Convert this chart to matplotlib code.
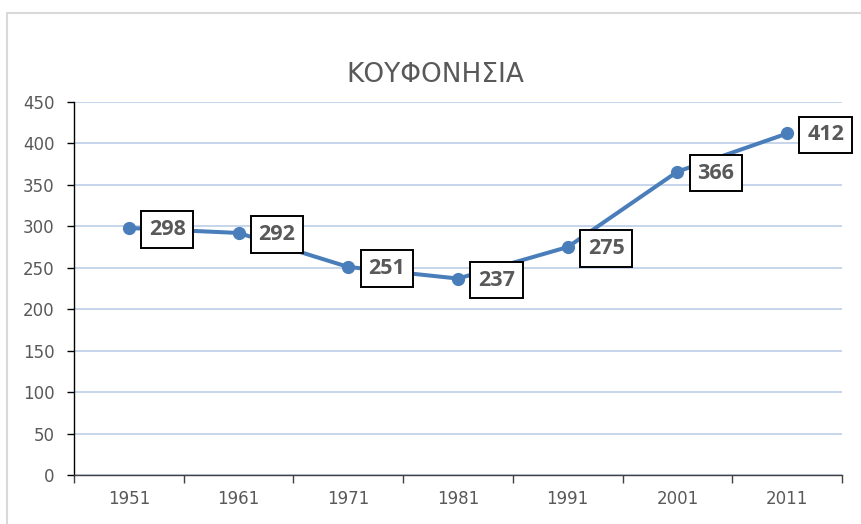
import matplotlib
matplotlib.use("Agg")
import matplotlib.pyplot as plt
from matplotlib.patches import Rectangle
from matplotlib.ticker import FixedLocator, NullFormatter, FixedFormatter

years = ["1951", "1961", "1971", "1981", "1991", "2001", "2011"]
population = [298, 292, 251, 237, 275, 366, 412]
yticks = [0, 50, 100, 150, 200, 250, 300, 350, 400, 450]
title = "ΚΟΥΦΟΝΗΣΙΑ"

plt.rcParams['font.family'] = ['DejaVu Sans']

W, H = 862, 524
fig = plt.figure(figsize=(W / 100, H / 100), dpi=100)
fig.patch.set_facecolor("white")

# chart area border
fig.patches.append(Rectangle((7 / W, -0.01), (W + 10 - 7) / W, (H - 13) / H + 0.01,
                             transform=fig.transFigure, fill=False,
                             edgecolor="#d9d9d9", linewidth=1.5))

ax = fig.add_axes([74 / W, 1 - 475 / H, (842 - 74) / W, (475 - 102) / H])
x = list(range(len(years)))
line_color = "#4a7ebb"
ax.plot(x, population, color=line_color, linewidth=2.9, marker="o",
        markersize=8.5, zorder=3, solid_capstyle="round")

for xi, v in zip(x, population):
    ax.annotate(str(v), (xi, v), xytext=(20, 1), textcoords="offset pixels",
                ha="left", va="center_baseline", fontsize=15.5, fontweight="bold",
                family=["Open Sans", "DejaVu Sans"],
                color="#595959", zorder=4, annotation_clip=False,
                bbox=dict(boxstyle="square,pad=0.36", facecolor="white",
                          edgecolor="black", linewidth=1.4))

ax.set_xlim(-0.5, len(years) - 0.5)
ax.set_ylim(0, 450)
ax.set_yticks(yticks)
ax.yaxis.grid(True, color="#c6d5ea", linewidth=1.4)
ax.set_axisbelow(True)

ax.xaxis.set_major_locator(FixedLocator([i - 0.5 for i in range(len(years) + 1)]))
ax.xaxis.set_major_formatter(NullFormatter())
ax.xaxis.set_minor_locator(FixedLocator(x))
ax.xaxis.set_minor_formatter(FixedFormatter(years))
ax.tick_params(axis="x", which="major", length=6, width=1, color="#404040", direction="out")
ax.tick_params(axis="x", which="minor", length=0, pad=11, labelsize=12, labelcolor="#595959")
ax.tick_params(axis="y", length=5, width=1, color="black", direction="out",
               labelsize=12, labelcolor="#595959", pad=9)

for s in ["top", "right"]:
    ax.spines[s].set_visible(False)
ax.spines["left"].set_color("black")
ax.spines["bottom"].set_color("#404040")
ax.spines["left"].set_linewidth(1)
ax.spines["bottom"].set_linewidth(1)

fig.text(435 / W, 1 - 75 / H, title, ha="center", va="center",
         fontsize=19, color="#595959")

fig.savefig("out.png", dpi=100, facecolor="white")
